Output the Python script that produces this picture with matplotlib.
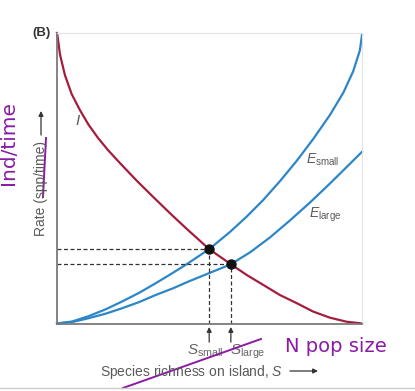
import matplotlib
matplotlib.use("Agg")
import matplotlib.pyplot as plt
from matplotlib.lines import Line2D

plt.rcParams['font.family'] = ['Liberation Sans', 'DejaVu Sans']
plt.rcParams['mathtext.fontset'] = 'custom'
plt.rcParams['mathtext.rm'] = 'Liberation Sans'
plt.rcParams['mathtext.it'] = 'Liberation Sans:italic'

# ---- data (S and rate on 0..1 scales) ----
imm_x = [0.0, 0.002, 0.010, 0.026, 0.048, 0.075, 0.103, 0.135, 0.168, 0.212, 0.261, 0.316,
         0.370, 0.425, 0.499, 0.570, 0.622, 0.676, 0.731, 0.786, 0.840, 0.895, 0.950, 0.993, 1.0]
imm_y = [1.0, 0.987, 0.925, 0.855, 0.790, 0.735, 0.685, 0.638, 0.596, 0.546, 0.492, 0.435,
         0.380, 0.326, 0.256, 0.204, 0.167, 0.133, 0.098, 0.070, 0.041, 0.020, 0.006, 0.001, 0.0]

esm_x = [0.0, 0.05, 0.103, 0.16, 0.212, 0.27, 0.321, 0.37, 0.425, 0.499, 0.567, 0.622, 0.676,
         0.731, 0.786, 0.840, 0.895, 0.939, 0.971, 0.993, 1.0]
esm_y = [0.0, 0.007, 0.025, 0.049, 0.075, 0.106, 0.137, 0.168, 0.204, 0.256, 0.315, 0.368, 0.425,
         0.490, 0.560, 0.635, 0.718, 0.795, 0.868, 0.940, 0.993]

elg_x = [0.0, 0.05, 0.103, 0.16, 0.212, 0.27, 0.321, 0.38, 0.430, 0.491, 0.570, 0.633, 0.698,
         0.764, 0.830, 0.895, 0.950, 1.0]
elg_y = [0.0, 0.005, 0.018, 0.034, 0.052, 0.074, 0.097, 0.121, 0.144, 0.170, 0.204, 0.245, 0.296,
         0.355, 0.417, 0.482, 0.539, 0.591]

eq_x = [0.499, 0.570]
eq_y = [0.256, 0.204]
eq_labels = ['small', 'large']

W, H = 415, 391
fig = plt.figure(figsize=(W / 100, H / 100), dpi=100)
L, R, T, B = 57, 362, 33, 323.5
ax = fig.add_axes([L / W, (H - B) / H, (R - L) / W, (B - T) / H])
ax.set_xlim(0, 1)
ax.set_ylim(0, 1)
ax.set_xticks([])
ax.set_yticks([])
for side in ['left', 'bottom']:
    ax.spines[side].set_color('#7a7a7a')
    ax.spines[side].set_linewidth(1.3)
for side in ['top', 'right']:
    ax.spines[side].set_color('#e2e2e2')
    ax.spines[side].set_linewidth(0.8)

red = '#A51D3E'
blue = '#2C86C8'
ax.plot(imm_x, imm_y, color=red, lw=1.6, solid_joinstyle='round', clip_on=False)
ax.plot(esm_x, esm_y, color=blue, lw=1.6, solid_joinstyle='round', clip_on=False)
ax.plot(elg_x, elg_y, color=blue, lw=1.6, solid_joinstyle='round', clip_on=False)

for x, y in zip(eq_x, eq_y):
    ax.plot([0, x], [y, y], color='#333333', lw=0.9, dashes=(3.2, 2))
    ax.plot([x, x], [0, y], color='#333333', lw=0.9, dashes=(3.2, 2))
ax.plot(eq_x, eq_y, 'o', color='#111111', ms=6.5, zorder=5)

xt = ax.get_xaxis_transform()
for x, lab, dx in zip(eq_x, eq_labels, [-0.073, -0.003]):
    ax.annotate('', xy=(x, -0.012), xytext=(x, -0.064), xycoords=xt, textcoords=xt,
                arrowprops=dict(arrowstyle='-|>', color='#333333', lw=0.9,
                                mutation_scale=7, shrinkA=0, shrinkB=0))
    ax.text(x + dx, -0.108, r'$S_{\mathrm{%s}}$' % lab, transform=xt, ha='left', va='baseline',
            fontsize=11, color='#666666')

def f(px, py):
    return px / W, 1 - py / H

gray = '#5a5a5a'
ax.text((78 - L) / (R - L), (B - 121) / (B - T), r'$I$', transform=ax.transAxes,
        ha='center', va='center', fontsize=11, color=gray)
ax.text((306 - L) / (R - L), (B - 160) / (B - T), r'$E_{\mathrm{small}}$', transform=ax.transAxes,
        ha='left', va='center', fontsize=10, color=gray)
ax.text((309 - L) / (R - L), (B - 215) / (B - T), r'$E_{\mathrm{large}}$', transform=ax.transAxes,
        ha='left', va='center', fontsize=10, color=gray)

fig.text(*f(41, 33), '(B)', fontsize=9.5, fontweight='bold', color='#333333', ha='center', va='center')

# x label
fig.text(*f(192, 372), r'Species richness on island, $S$', fontsize=10, color=gray,
         ha='center', va='center')
ax.annotate('', xy=f(318, 371), xytext=f(290, 371), xycoords='figure fraction',
            arrowprops=dict(arrowstyle='-|>', color='#333333', lw=0.9, mutation_scale=7,
                            shrinkA=0, shrinkB=0))
# y label
fig.text(*f(41, 189), 'Rate (spp/time)', fontsize=10, color=gray, rotation=90,
         ha='center', va='center')
ax.annotate('', xy=f(41, 111), xytext=f(41, 135), xycoords='figure fraction',
            arrowprops=dict(arrowstyle='-|>', color='#333333', lw=0.9, mutation_scale=7,
                            shrinkA=0, shrinkB=0))

# handwritten annotations (purple)
purple = '#8A1BA6'
fig.text(*f(8, 143), 'Ind/time', fontsize=14.5, color=purple, rotation=90,
         ha='center', va='center', family=['DejaVu Sans'])
fig.lines.append(Line2D([43 / W, 46 / W], [1 - 197 / H, 1 - 138 / H], transform=fig.transFigure,
                        color=purple, lw=1.4))
fig.lines.append(Line2D([123 / W, 261 / W], [1 - 388 / H, 1 - 339 / H], transform=fig.transFigure,
                        color=purple, lw=1.4))
fig.text(*f(336, 347), 'N pop size', fontsize=14, color=purple, ha='center', va='center',
         family=['DejaVu Sans'])

# screenshot border line
fig.lines.append(Line2D([0, 1], [1 - 388 / H, 1 - 388 / H], transform=fig.transFigure,
                        color='#cccccc', lw=1))

fig.savefig('out.png', dpi=100)
